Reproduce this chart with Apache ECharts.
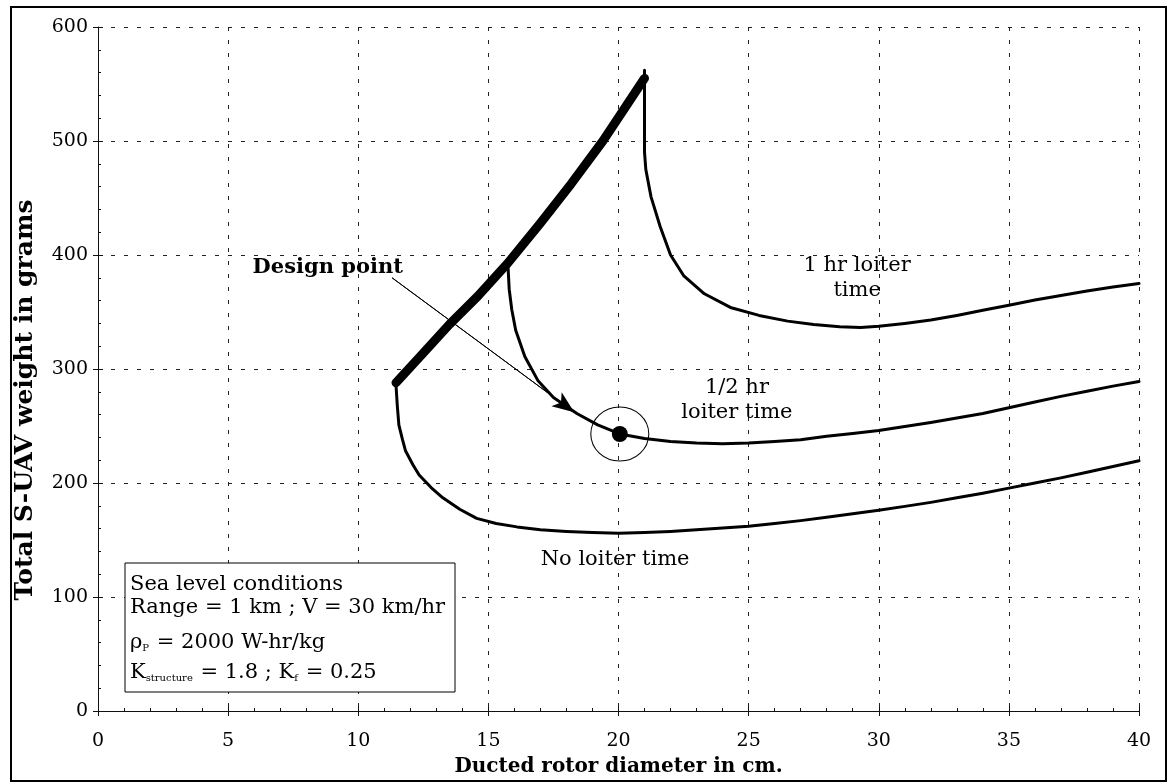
<!DOCTYPE html>
<html>
<head>
<meta charset="utf-8">
<title>S-UAV weight vs ducted rotor diameter</title>
<script src="https://cdn.jsdelivr.net/npm/echarts@6/dist/echarts.min.js"></script>
<style>
  html, body { margin: 0; padding: 0; background: #fff; }
  #chart { width: 1170px; height: 784px; }
</style>
</head>
<body>
<div id="chart"></div>
<script>
// Axis ranges and tick steps
const xRange = [0, 40];
const xStep = 5;
const yRange = [0, 600];
const yStep = 100;

// Optimum envelope (thick line): start of each loiter-time curve
const envelope = [[11.45, 288], [12.5, 314], [13.5, 339], [14.6, 364], [15.75, 393], [17.0, 428], [18.2, 463], [19.4, 500], [20.3, 531], [21.0, 555]];

// No loiter time
const noLoiter = [
  [11.45, 286], [11.5, 268], [11.56, 251], [11.7, 238], [11.82, 228], [12.1, 216], [12.34, 207],
  [12.8, 196], [13.25, 187], [13.9, 177], [14.55, 169], [15.3, 164.5], [16.1, 161.5], [17, 159],
  [18, 157.5], [19, 156.5], [20, 156], [21, 156.5], [22, 157.5], [23, 159], [24, 160.5], [25, 162],
  [26, 164.5], [27, 167], [28, 170], [29, 173], [30, 176], [31, 179.5], [32, 183], [33, 187],
  [34, 191], [35, 195.5], [36, 200], [37, 204.5], [38, 209.5], [39, 214.5], [40, 219.5]
];

// 1/2 hr loiter time
const halfHour = [
  [15.75, 392], [15.8, 370], [15.9, 352], [16.05, 334], [16.4, 311], [16.9, 290], [17.5, 275],
  [18.4, 261], [19.2, 251], [20.05, 243], [21, 239], [22, 236.5], [23, 235], [24, 234.5], [25, 235],
  [26, 236.5], [27, 238], [28, 241], [29, 243.5], [30, 246], [31, 249.5], [32, 253], [33, 257],
  [34, 261], [35, 266], [36, 271], [37, 276], [38, 280.5], [39, 285], [40, 289]
];

// 1 hr loiter time
const oneHour = [
  [21.0, 562], [21.0, 490], [21.05, 475], [21.25, 451], [21.6, 425], [22.0, 400], [22.5, 382],
  [23.3, 366], [24.3, 354], [25.4, 347], [26.5, 342], [27.5, 339], [28.5, 337], [29.3, 336.5],
  [30, 337.5], [31, 340], [32, 343], [33, 347], [34, 351.5], [35, 356], [36, 360.5], [37, 364.5],
  [38, 368.5], [39, 372], [40, 375]
];

// Selected design and the pointer leading to it
const designPoint = [20.05, 243];
const pointerFrom = [11.3, 380];
const pointerTo = [18.3, 262];

// Curve captions: [x, y, text]
const captions = [
  [29.17, 380, '1 hr loiter\ntime'],
  [24.55, 273, '1/2 hr\nloiter time'],
  [19.87, 133, 'No loiter time']
];
const designCaption = [5.94, 389, 'Design point'];

const SERIF = '"DejaVu Serif", "Liberation Serif", serif';

const chart = echarts.init(document.getElementById('chart'), null, { renderer: 'canvas' });

const gridLine = { show: true, lineStyle: { color: '#222', width: 1, type: [4, 9] } };
const curveStyle = { color: '#000', width: 3, cap: 'round', join: 'round' };

function baseX(extra) {
  return Object.assign({
    type: 'value', min: xRange[0], max: xRange[1], interval: xStep, gridIndex: 0, position: 'bottom'
  }, extra);
}
function baseY(extra) {
  return Object.assign({
    type: 'value', min: yRange[0], max: yRange[1], interval: yStep, gridIndex: 0, position: 'left'
  }, extra);
}

const option = {
  backgroundColor: '#fff',
  animation: false,
  grid: { left: 98, right: 31, top: 27, bottom: 73 },
  xAxis: [
    baseX({
      name: 'Ducted rotor diameter in cm.',
      nameLocation: 'middle',
      nameGap: 46,
      nameTextStyle: { fontFamily: SERIF, fontWeight: 'bold', fontSize: 20, color: '#000' },
      axisLine: { show: true, onZero: false, lineStyle: { color: '#111', width: 1 } },
      axisTick: { show: true, inside: true, length: 5, lineStyle: { color: '#111' } },
      minorTick: { show: true, splitNumber: 5, length: 3, lineStyle: { color: '#111' } },
      axisLabel: { margin: 21, fontFamily: SERIF, fontSize: 19, color: '#000' },
      splitLine: gridLine
    }),
    baseX({
      axisLine: { show: false },
      axisTick: { show: true, inside: false, length: 5, lineStyle: { color: '#111' } },
      axisLabel: { show: false },
      splitLine: { show: false }
    })
  ],
  yAxis: [
    baseY({
      name: 'Total S-UAV weight in grams',
      nameLocation: 'middle',
      nameGap: 60,
      nameTextStyle: { fontFamily: SERIF, fontWeight: 'bold', fontSize: 25, color: '#000', padding: [0, 62, 0, 0] },
      axisLine: { show: true, onZero: false, lineStyle: { color: '#111', width: 1 } },
      axisTick: { show: true, inside: true, length: 5, lineStyle: { color: '#111' } },
      minorTick: { show: true, splitNumber: 5, length: 3, lineStyle: { color: '#111' } },
      axisLabel: { margin: 10, fontFamily: SERIF, fontSize: 19, color: '#000' },
      splitLine: gridLine
    }),
    baseY({
      axisLine: { show: false },
      axisTick: { show: true, inside: false, length: 5, lineStyle: { color: '#111' } },
      axisLabel: { show: false },
      splitLine: { show: false }
    })
  ],
  series: [
    {
      name: 'No loiter time', type: 'line', data: noLoiter, showSymbol: false, symbol: 'none',
      lineStyle: curveStyle, silent: true, z: 3
    },
    {
      name: '1/2 hr loiter time', type: 'line', data: halfHour, showSymbol: false, symbol: 'none',
      lineStyle: curveStyle, silent: true, z: 3
    },
    {
      name: '1 hr loiter time', type: 'line', data: oneHour, showSymbol: false, symbol: 'none',
      lineStyle: curveStyle, silent: true, z: 3
    },
    {
      name: 'Envelope', type: 'line', data: envelope, showSymbol: false, symbol: 'none',
      lineStyle: { color: '#000', width: 9, cap: 'round', join: 'round' }, silent: true, z: 4
    },
    {
      // pointer from the caption to the design point
      name: 'Pointer', type: 'line', data: [pointerFrom, pointerTo], showSymbol: false, symbol: 'none',
      lineStyle: { color: '#000', width: 1 }, silent: true, z: 5,
      markLine: {
        silent: true,
        symbol: ['none', 'arrow'],
        symbolSize: [13, 22],
        label: { show: false },
        lineStyle: { color: '#000', width: 1, type: 'solid' },
        data: [[{ coord: pointerFrom }, { coord: pointerTo }]]
      }
    },
    {
      name: 'Design point ring', type: 'scatter', data: [designPoint], symbol: 'circle',
      symbolSize: [58, 54], itemStyle: { color: 'rgba(0,0,0,0)', borderColor: '#000', borderWidth: 1, opacity: 1 },
      silent: true, z: 5
    },
    {
      name: 'Design point', type: 'scatter', data: [designPoint], symbol: 'circle', symbolSize: 16,
      itemStyle: { color: '#000', opacity: 1 }, silent: true, z: 6
    },
    {
      name: 'Captions', type: 'scatter', symbolSize: 0, silent: true, z: 7,
      itemStyle: { opacity: 1 },
      data: captions.map(c => ({ value: [c[0], c[1]], label: { formatter: c[2] } })),
      label: {
        show: true, position: 'inside', align: 'center', verticalAlign: 'middle', opacity: 1,
        fontFamily: SERIF, fontSize: 21, lineHeight: 25, color: '#000'
      }
    },
    {
      name: 'Design caption', type: 'scatter', symbolSize: 0, silent: true, z: 7,
      itemStyle: { opacity: 1 },
      data: [{ value: [designCaption[0], designCaption[1]], label: { formatter: designCaption[2] } }],
      label: {
        show: true, position: 'inside', align: 'left', verticalAlign: 'middle', opacity: 1,
        fontFamily: SERIF, fontSize: 21, fontWeight: 'bold', color: '#000'
      }
    }
  ],
  graphic: [
    // outer frame
    {
      type: 'rect', z: 100, silent: true,
      shape: { x: 11, y: 7, width: 1155, height: 774 },
      style: { fill: null, stroke: '#000', lineWidth: 2 }
    },
    // conditions box
    {
      type: 'rect', z: 100, silent: true,
      shape: { x: 125, y: 563, width: 330, height: 129 },
      style: { fill: '#fff', stroke: '#000', lineWidth: 1 }
    },
    {
      type: 'text', z: 101, silent: true, x: 130, y: 585,
      style: { text: 'Sea level conditions', font: '21px ' + SERIF, fill: '#000', verticalAlign: 'middle' }
    },
    {
      type: 'text', z: 101, silent: true, x: 130, y: 608,
      style: { text: 'Range = 1 km ; V = 30 km/hr', font: '21px ' + SERIF, fill: '#000', verticalAlign: 'middle' }
    },
    {
      type: 'text', z: 101, silent: true, x: 130, y: 643,
      style: {
        text: 'ρ{s|P} = 2000 W-hr/kg', font: '21px ' + SERIF, fill: '#000', verticalAlign: 'middle',
        rich: { s: { fontSize: 10, fontFamily: SERIF, verticalAlign: 'bottom', padding: [0, 1, 0, 0] } }
      }
    },
    {
      type: 'text', z: 101, silent: true, x: 130, y: 673,
      style: {
        text: 'K{s|structure} = 1.8 ; K{s|f} = 0.25', font: '21px ' + SERIF, fill: '#000', verticalAlign: 'middle',
        rich: { s: { fontSize: 10, fontFamily: SERIF, verticalAlign: 'bottom', padding: [0, 1, 0, 0] } }
      }
    }
  ]
};

chart.setOption(option);
</script>
</body>
</html>
